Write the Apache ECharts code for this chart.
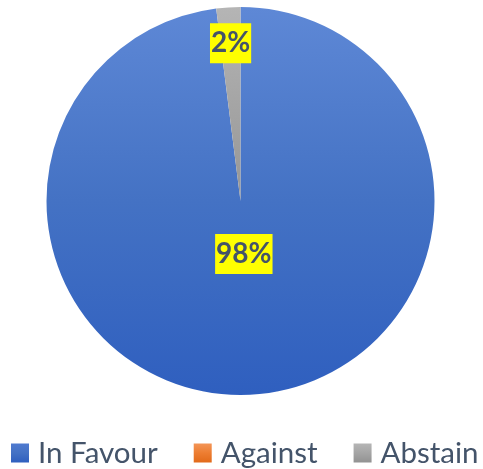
<!DOCTYPE html>
<html>
<head>
<meta charset="utf-8">
<script src="https://cdn.jsdelivr.net/npm/echarts@6/dist/echarts.min.js"></script>
<style>html,body{margin:0;padding:0;background:#fff}#c{width:483px;height:469px}</style>
</head>
<body>
<div id="c"></div>
<script>
var categories = ['In Favour', 'Against', 'Abstain'];
var values = [98, 0, 2];
var labels = ['98%', '', '2%'];

var grad = function (top, mid, bot) {
  return new echarts.graphic.LinearGradient(0, 0, 0, 1, [
    { offset: 0, color: top }, { offset: 0.5, color: mid }, { offset: 1, color: bot }
  ]);
};
var colorsSlice = [
  grad('#5e88d6', '#4472c4', '#2f5fbf'),
  grad('#f39557', '#ed7d31', '#e26a1a'),
  grad('#b5b5b5', '#a5a5a5', '#969696')
];
var colorsLegend = [
  grad('#4f7ad0', '#4472c4', '#2f5fbf'),
  grad('#f39557', '#ed7d31', '#e26a1a'),
  grad('#b5b5b5', '#a5a5a5', '#929292')
];

var labelStyle = {
  show: true, position: 'inside', color: '#44546a', fontFamily: 'Lato',
  fontWeight: 'bold', fontSize: 28, lineHeight: 32, backgroundColor: '#ffff00',
  padding: [5, 1, 3, 1], formatter: function (p) { return labels[p.dataIndex]; }
};

function labelSeries(radius, idx) {
  return {
    type: 'pie', center: [240.5, 201], radius: [0, radius], startAngle: 90, clockwise: true,
    silent: true, animation: false, avoidLabelOverlap: false, z: 5,
    itemStyle: { color: 'rgba(0,0,0,0)' }, emphasis: { disabled: true }, labelLine: { show: false },
    data: categories.map(function (c, i) {
      return { name: c, value: values[i], label: i === idx ? labelStyle : { show: false } };
    })
  };
}

var chart = echarts.init(document.getElementById('c'), null, { renderer: 'canvas' });
chart.setOption({
  animation: false,
  legend: {
    left: 11, top: 437, width: 700, padding: 0, itemWidth: 18, itemHeight: 19, itemGap: 36, icon: 'rect',
    textStyle: { fontFamily: 'Lato', fontSize: 29.5, lineHeight: 32, color: '#44546a', padding: [0, 0, 0, 4] },
    data: categories.map(function (c, i) { return { name: c, itemStyle: { color: colorsLegend[i] } }; })
  },
  series: [
    {
      type: 'pie', center: [240.5, 201], radius: [0, 194], startAngle: 90, clockwise: true,
      animation: false, label: { show: false }, labelLine: { show: false },
      itemStyle: { borderWidth: 0 },
      data: categories.map(function (c, i) { return { name: c, value: values[i], itemStyle: { color: colorsSlice[i] } }; })
    },
    labelSeries(100, 0),
    labelSeries(310, 2)
  ]
});
</script>
</body>
</html>
